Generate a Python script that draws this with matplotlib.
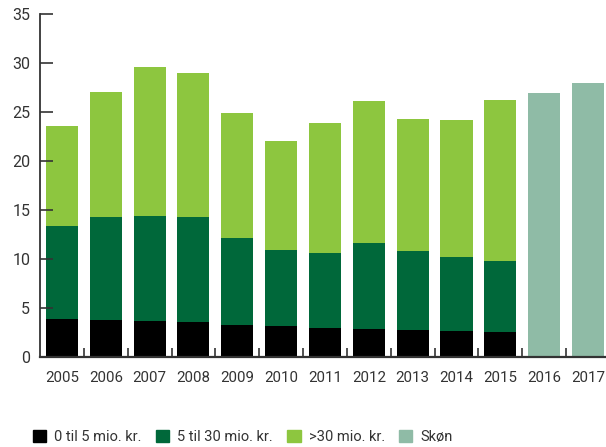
import matplotlib.pyplot as plt
from matplotlib.patches import Patch
import numpy as np

years = ['2005', '2006', '2007', '2008', '2009', '2010', '2011',
         '2012', '2013', '2014', '2015', '2016', '2017']
small = [3.9, 3.8, 3.7, 3.6, 3.3, 3.2, 3.0, 2.9, 2.8, 2.7, 2.6]
mid_top = [13.4, 14.3, 14.4, 14.3, 12.1, 10.9, 10.6, 11.6, 10.8, 10.2, 9.8]
total = [23.6, 27.0, 29.6, 29.0, 24.9, 22.0, 23.9, 26.1, 24.3, 24.2, 26.2]
estimate = [26.95, 27.95]

c_small = '#000000'
c_mid = '#00683a'
c_big = '#8dc63f'
c_est = '#8fbba6'
txt = '#333333'

plt.rcParams['font.family'] = ['Roboto', 'DejaVu Sans']

fig = plt.figure(figsize=(6.06, 4.47), dpi=100)
ax = fig.add_axes([40 / 606, 1 - 357 / 447, 1 - 40 / 606, (357 - 14) / 447])

n = len(small)
x = np.arange(len(years))
w = 0.73
mid = np.array(mid_top) - np.array(small)
big = np.array(total) - np.array(mid_top)
ax.bar(x[:n], small, w, color=c_small)
ax.bar(x[:n], mid, w, bottom=small, color=c_mid)
ax.bar(x[:n], big, w, bottom=mid_top, color=c_big)
ax.bar(x[n:], estimate, w, color=c_est)

ax.set_xlim(-0.5, len(years) - 1 + 0.41)
ax.set_ylim(0, 35)
ax.set_yticks(range(0, 36, 5))
ax.tick_params(axis='y', direction='in', length=9.5, width=1.2, color=txt,
               labelsize=11.5, labelcolor=txt, pad=7)
ax.set_xticks(x)
ax.set_xticklabels(years)
ax.tick_params(axis='x', which='major', length=0, labelsize=10.8,
               labelcolor=txt, pad=10)
ax.set_xticks(x[:-1] + 0.5, minor=True)
ax.tick_params(axis='x', which='minor', direction='in', length=6.5,
               width=1.2, color=txt)

for s in ['top', 'right']:
    ax.spines[s].set_visible(False)
ax.spines['left'].set_color(txt)
ax.spines['left'].set_linewidth(1.3)
ax.spines['bottom'].set_color(txt)
ax.spines['bottom'].set_linewidth(1.6)

handles = [Patch(color=c_small), Patch(color=c_mid),
           Patch(color=c_big), Patch(color=c_est)]
labels = ['0 til 5 mio. kr.', '5 til 30 mio. kr.', '>30 mio. kr.', 'Skøn']
fig.legend(handles, labels, loc='center left', bbox_to_anchor=(33 / 606, 0.022),
           ncol=4, frameon=False, fontsize=10.5, labelcolor=txt,
           handlelength=0.9, handleheight=0.9, handletextpad=0.55,
           columnspacing=1.0, borderaxespad=0, borderpad=0)

fig.savefig('out.png', dpi=100)
